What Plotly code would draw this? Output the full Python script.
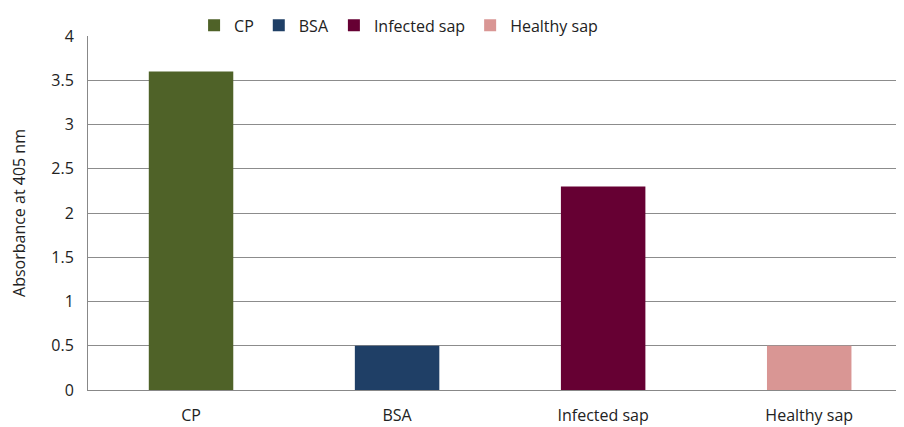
import plotly.graph_objects as go

# Datos del gráfico
categorias = ["CP", "BSA", "Infected sap", "Healthy sap"]
absorbancia = [3.6, 0.5, 2.3, 0.5]
colores = ["#4F6228", "#1F3F66", "#660033", "#D99694"]
ticks_y = [0, 0.5, 1, 1.5, 2, 2.5, 3, 3.5, 4]
etiquetas_y = ["0", "0.5", "1", "1.5", "2", "2.5", "3", "3.5", "4"]

fuente = "Open Sans, Liberation Sans, sans-serif"

fig = go.Figure()
for cat, val, col in zip(categorias, absorbancia, colores):
    fig.add_trace(go.Bar(x=[cat], y=[val], name=cat, marker_color=col,
                         marker_line_width=0, width=0.41))

# la página tiene 8px de margen en el body, por eso la figura es algo más pequeña
fig.update_layout(
    width=896, height=419,
    margin=dict(l=80, r=0, t=21, b=37),
    paper_bgcolor="white", plot_bgcolor="white",
    barmode="overlay",
    font=dict(family=fuente, size=16, color="#222"),
    legend=dict(orientation="h", x=0.13, y=1.03, xanchor="left", yanchor="middle",
                font=dict(size=16), itemwidth=30, tracegroupgap=0,
                bgcolor="rgba(0,0,0,0)"),
)

fig.update_xaxes(range=[-0.5, 3.46], showline=True, linewidth=1, linecolor="#888",
                 showgrid=False, ticks="", ticklabelstandoff=11, automargin=False)
fig.update_yaxes(range=[0, 4], tickvals=ticks_y, ticktext=etiquetas_y,
                 showline=True, linewidth=1, linecolor="#888",
                 showgrid=True, gridcolor="#8c8c8c", gridwidth=1,
                 ticks="", ticklabelstandoff=10, zeroline=False, automargin=False,
                 title=dict(text="Absorbance at 405 nm", font=dict(size=16), standoff=22))

fig.write_html("out.html")
